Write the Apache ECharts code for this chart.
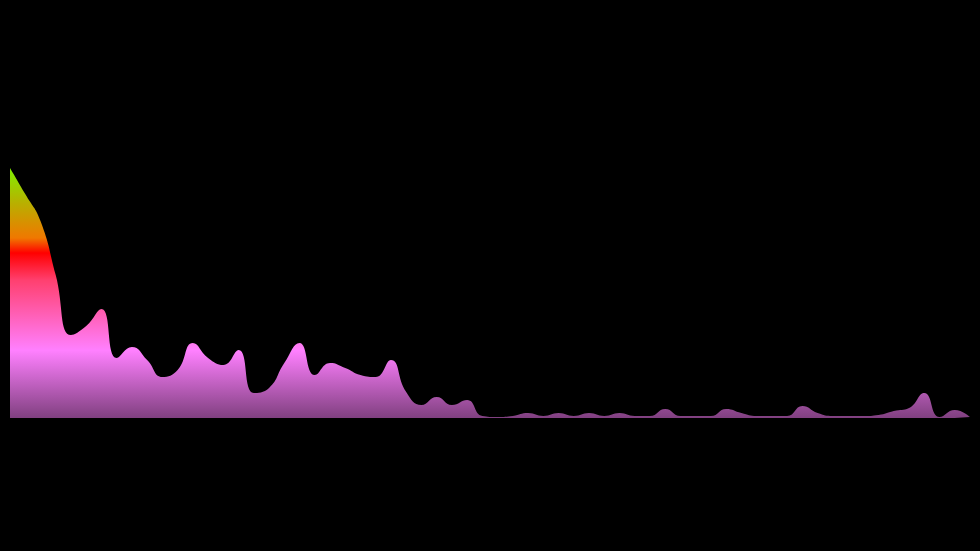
<!DOCTYPE html>
<html>
<head>
<meta charset="utf-8">
<script src="https://cdn.jsdelivr.net/npm/echarts@6/dist/echarts.min.js"></script>
<style>
  html, body { margin: 0; padding: 0; background: #000; }
  #spectrum { width: 980px; height: 551px; }
</style>
</head>
<body>
<div id="spectrum"></div>
<script>
// frequency bins (64) and their levels on a 0-255 scale
const bins = Array.from({ length: 64 }, (_, i) => i)
const levels = [
  250, 224, 197, 143, 83, 92, 109, 60, 71, 58,
  41, 48, 75, 60, 53, 68, 25, 30, 55, 75,
  43, 55, 50, 43, 41, 58, 26, 13, 21, 13,
  18, 2, 1, 2, 5, 2, 5, 2, 5, 2,
  5, 2, 2, 9, 2, 2, 2, 9, 5, 2,
  2, 2, 12, 5, 2, 2, 2, 3, 7, 10,
  25, 1, 8, 1
]
const levelMax = 255

let myChart = echarts.init(document.getElementById('spectrum'))
let option = {
  backgroundColor: '#000',
  animation: false,
  grid: {
    left: 10,
    right: 10,
    top: 163,
    bottom: 133
  },
  xAxis: {
    type: 'category',
    data: bins,
    boundaryGap: false,
    show: false
  },
  yAxis: {
    type: 'value',
    min: 0,
    max: levelMax,
    show: false
  },
  series: [
    {
      type: 'line',
      data: levels,
      smooth: true,
      showSymbol: false,
      lineStyle: { width: 0 },
      areaStyle: {
        opacity: 1,
        color: new echarts.graphic.LinearGradient(0, 0, 0, 1, [
          { offset: 0, color: '#80f000' },
          { offset: 0.14, color: '#b8b000' },
          { offset: 0.28, color: '#f07800' },
          { offset: 0.34, color: '#ff0000' },
          { offset: 0.45, color: '#ff4070' },
          { offset: 0.73, color: '#ff80ff' },
          { offset: 1, color: '#804080' }
        ])
      }
    }
  ]
}
myChart.setOption(option)
</script>
</body>
</html>
